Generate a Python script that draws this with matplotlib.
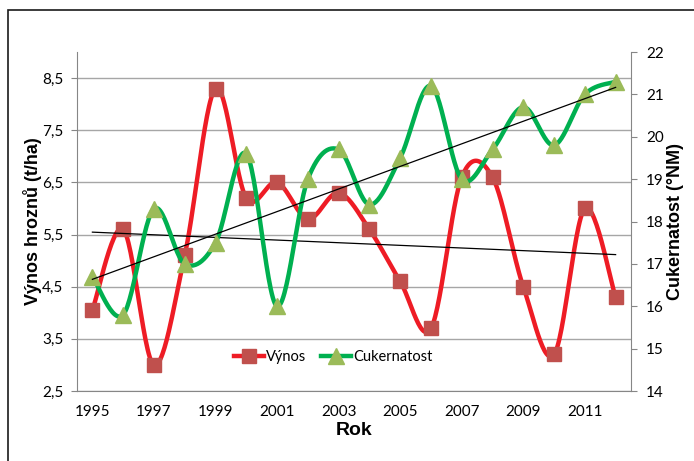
import numpy as np
import matplotlib
matplotlib.use("Agg")
import matplotlib.pyplot as plt
from matplotlib.lines import Line2D
from matplotlib.patches import Rectangle
from matplotlib.ticker import FuncFormatter

years = list(range(1995, 2013))
vynos = [4.05, 5.6, 3.0, 5.1, 8.3, 6.2, 6.5, 5.8, 6.3, 5.6, 4.6, 3.7, 6.6, 6.6, 4.5, 3.2, 6.0, 4.3]
cukernatost = [16.7, 15.8, 18.3, 17.0, 17.5, 19.6, 16.0, 19.0, 19.7, 18.4, 19.5, 21.2, 19.0, 19.7, 20.7, 19.8, 21.0, 21.3]
xtick_years = [1995, 1997, 1999, 2001, 2003, 2005, 2007, 2009, 2011]
left_ticks = [2.5, 3.5, 4.5, 5.5, 6.5, 7.5, 8.5]
right_ticks = [14, 15, 16, 17, 18, 19, 20, 21, 22]


def smooth(x, y, n=30):
    x = np.asarray(x, float)
    y = np.asarray(y, float)
    P = np.column_stack([x, y])
    Pe = np.vstack([P[0], P, P[-1]])
    out = []
    t = np.linspace(0, 1, n)[:, None]
    for i in range(len(P) - 1):
        p0, p1, p2, p3 = Pe[i], Pe[i + 1], Pe[i + 2], Pe[i + 3]
        c1 = p1 + (p2 - p0) / 6.0
        c2 = p2 - (p3 - p1) / 6.0
        seg = ((1 - t) ** 3) * p1 + 3 * ((1 - t) ** 2) * t * c1 + 3 * (1 - t) * t ** 2 * c2 + t ** 3 * p2
        out.append(seg if i == 0 else seg[1:])
    s = np.vstack(out)
    return s[:, 0], s[:, 1]


W, H = 694, 461
fig = plt.figure(figsize=(W / 100, H / 100), dpi=100)
fig.patch.set_facecolor("white")

# outer chart border
fig.add_artist(Rectangle((8 / W, -0.1), 1.2, (H - 10) / H + 0.1, transform=fig.transFigure,
                         fill=False, edgecolor="#1a1a1a", linewidth=1.2))

ax = fig.add_axes([77 / W, (H - 391) / H, (631 - 77) / W, (391 - 52) / H])
ax2 = ax.twinx()

red_line = "#EE1C25"
red_mark = "#C0504D"
green_line = "#00B050"
green_mark = "#9BBB59"

ax.set_xlim(1994.5, 2012.5)
ax.set_ylim(2.5, 9.0)
ax2.set_ylim(14, 22)

for v in left_ticks:
    ax.axhline(v, color="#A6A6A6", linewidth=1.0, zorder=0)

xs, ys = smooth(years, vynos)
ax.plot(xs, ys, color=red_line, linewidth=3.2, zorder=2, solid_capstyle="round")
ax.plot(years, vynos, linestyle="none", marker="s", markersize=10,
        markerfacecolor=red_mark, markeredgecolor=red_mark, zorder=3)
c = np.polyfit(years, vynos, 1)
ax.plot([years[0], years[-1]], np.polyval(c, [years[0], years[-1]]), color="black", linewidth=0.9, zorder=5)

xs2, ys2 = smooth(years, cukernatost)
ax2.plot(xs2, ys2, color=green_line, linewidth=3.2, zorder=2, solid_capstyle="round")
ax2.plot(years, cukernatost, linestyle="none", marker="^", markersize=11,
         markerfacecolor=green_mark, markeredgecolor=green_mark, zorder=3)
c2 = np.polyfit(years, cukernatost, 1)
ax2.plot([years[0], years[-1]], np.polyval(c2, [years[0], years[-1]]), color="black", linewidth=0.9, zorder=5)

tick_font = dict(family=["Lato", "DejaVu Sans"], size=11)
ax.set_yticks(left_ticks)
ax.yaxis.set_major_formatter(FuncFormatter(lambda v, p: f"{v:.1f}".replace(".", ",")))
ax.set_xticks(xtick_years)
ax.set_xticklabels([str(y) for y in xtick_years], **tick_font)
for lab in ax.get_yticklabels():
    lab.set_fontfamily(["Lato", "DejaVu Sans"])
    lab.set_fontsize(11)
ax2.set_yticks(right_ticks)
ax2.set_yticklabels([str(v) for v in right_ticks], **tick_font)

for a in (ax, ax2):
    for s in a.spines.values():
        s.set_visible(False)
ax.spines["left"].set_visible(True)
ax.spines["left"].set_color("#868686")
ax.spines["bottom"].set_visible(True)
ax.spines["bottom"].set_color("#868686")
ax2.spines["right"].set_visible(True)
ax2.spines["right"].set_color("#868686")

ax.tick_params(axis="y", length=4, color="#868686", pad=6)
ax.tick_params(axis="x", length=0, pad=10)
ax2.tick_params(axis="y", length=4, color="#868686", pad=7)

ax.set_ylabel("Výnos hroznů (t/ha)", fontsize=13, fontweight="bold",
              family=["Liberation Sans", "DejaVu Sans"], labelpad=0)
ax2.set_ylabel("Cukernatost (°NM)", fontsize=13, fontweight="bold",
               family=["Liberation Sans", "DejaVu Sans"], labelpad=2)
ax.set_xlabel("Rok", fontsize=14, fontweight="bold",
              family=["Liberation Sans", "DejaVu Sans"], labelpad=2)

handles = [
    Line2D([], [], color=red_line, linewidth=3.2, marker="s", markersize=10,
           markerfacecolor=red_mark, markeredgecolor=red_mark),
    Line2D([], [], color=green_line, linewidth=3.2, marker="^", markersize=11,
           markerfacecolor=green_mark, markeredgecolor=green_mark),
]
leg = ax2.legend(handles, ["Výnos", "Cukernatost"], loc="center", bbox_to_anchor=(0.462, 0.10),
                 ncol=2, frameon=False, prop={"family": ["Lato", "DejaVu Sans"], "size": 10.5},
                 handlelength=2.1, handletextpad=0.1, columnspacing=1.0)

fig.savefig("out.png", dpi=100)
